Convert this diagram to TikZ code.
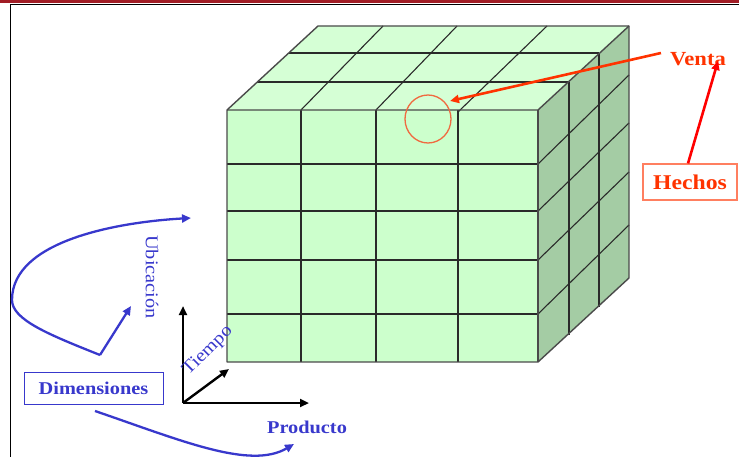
\documentclass[tikz,border=0pt]{standalone}
\usepackage{fontspec}
\setmainfont{Liberation Serif}[FakeStretch=1.13]
\usetikzlibrary{arrows.meta,shapes.geometric,calc}
\definecolor{frontg}{HTML}{CCFFCC}
\definecolor{topg}{HTML}{D5FFD5}
\definecolor{sideg}{HTML}{A4CCA4}
\definecolor{edgec}{HTML}{2A2A2A}
\definecolor{redtxt}{HTML}{FF3300}
\definecolor{bluetxt}{HTML}{3838CC}
\definecolor{barred}{HTML}{A11C25}
\definecolor{circc}{HTML}{F06A40}
\definecolor{hboxc}{HTML}{FF7F60}
\tikzset{
  grid/.style={draw=edgec, line width=1.1pt},
  outl/.style={draw=edgec!85!white, line width=1.4pt, line join=round},
  redarrow/.style={line width=2.6pt, -{Triangle[length=9pt,width=8pt]}},
  bluearrow/.style={draw=bluetxt, line width=2.3pt, -{Triangle[length=9pt,width=8pt]}},
  axisarrow/.style={draw=black, line width=2.4pt, -{Triangle[length=9pt,width=8pt]}},
  redlbl/.style={text=redtxt, font=\fontsize{20}{22}\selectfont\bfseries, inner sep=2pt},
  bluelbl/.style={text=bluetxt, font=\fontsize{18}{20}\selectfont, inner sep=1pt},
}
\begin{document}
\begin{tikzpicture}[x=1pt,y=-1pt]
\useasboundingbox (0,0) rectangle (739,457);
% frame
\fill[barred] (0,0) rectangle (739,3.5);
\draw[line width=1.6pt] (10.5,457) -- (10.5,4.5) -- (739,4.5);
% cube faces
\fill[topg] (227,110) -- (318,26) -- (629,26) -- (538,110) -- cycle;
\fill[sideg] (538,110) -- (629,26) -- (629,278) -- (538,362) -- cycle;
\fill[frontg] (227,110) rectangle (538,362);
% front grid
\foreach \x in {301,376,458} \draw[grid] (\x,110) -- (\x,362);
\foreach \y in {164,211,260,314} \draw[grid] (227,\y) -- (538,\y);
% top grid
\draw[grid] (257,82) -- (569,82);
\draw[grid] (289,53) -- (599,53);
\draw[grid] (301,110) -- (383,26);
\draw[grid] (376,110) -- (457,26);
\draw[grid] (458,112) -- (547,26);
% side grid
\draw[grid] (569,82) -- (569,335);
\draw[grid] (599,53) -- (599,307);
\draw[grid] (538,164) -- (629,75);
\draw[grid] (538,211) -- (629,123);
\draw[grid] (538,260) -- (629,172);
\draw[grid] (538,314) -- (629,225);
% outline
\draw[outl] (227,362) -- (227,110) -- (318,26) -- (629,26) -- (629,278) -- (538,362) -- cycle;
\draw[outl] (227,110) -- (538,110) -- (629,26);
\draw[outl] (538,110) -- (538,362);
% fact cell
\node[ellipse, draw=circc, line width=1.3pt, minimum width=46pt, minimum height=48pt, inner sep=0pt] (cell) at (428,119) {};
\coordinate (celltip) at (450,101);
% labels right
\node[redlbl] (ven) at (698,59) {Venta};
\node[redlbl, draw=hboxc, line width=1.2pt, minimum width=94pt, minimum height=36pt, font=\fontsize{21}{23}\selectfont\bfseries] (hech) at (690,182) {Hechos};
\coordinate (venfoot) at (718,61);
\draw[redarrow, draw=redtxt] ($(ven.west)+(-7,-6)$) -- (celltip);
\draw[redarrow, draw=red] ([xshift=-2pt]hech.north) -- (venfoot);
% axes
\coordinate (o) at (183,403);
\coordinate (oy) at (183,306);
\coordinate (ox) at (309,403);
\coordinate (oz) at (229,369);
\draw[axisarrow] (o) -- (oy);
\draw[axisarrow] (o) -- (ox);
\draw[axisarrow] (o) -- (oz);
\node[bluelbl, rotate=-90] (ubi) at (152,277) {Ubicación};
\node[bluelbl, rotate=45] (tie) at (208,351) {Tiempo};
\node[bluelbl, font=\fontsize{18}{20}\selectfont\bfseries] (pro) at (307,427) {Producto};
% dimensions
\node[draw=bluetxt, line width=1pt, minimum width=139pt, minimum height=32pt, text=bluetxt, font=\fontsize{18}{20}\selectfont\bfseries] (dim) at (93.5,388) {Dimensiones};
\coordinate (vpt) at (100,355);
\coordinate (ubitip) at (131,306);
\coordinate (toptip) at (191,218);
\coordinate (botstart) at (95,411);
\coordinate (bottip) at (294,444);
\draw[bluearrow] (vpt) -- (ubitip);
\draw[bluearrow] (vpt) .. controls (50,335) and (12,320) .. (12,300) .. controls (12,240) and (120,222) .. (toptip);
\draw[bluearrow] (botstart) .. controls (180,440) and (250,470) .. (bottip);
\end{tikzpicture}
\end{document}
